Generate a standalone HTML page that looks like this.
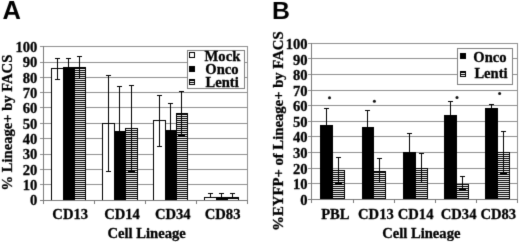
<!DOCTYPE html>
<html><head><meta charset="utf-8"><style>
html,body{margin:0;padding:0;background:#fff;}
body{width:520px;height:242px;overflow:hidden;}
svg{display:block;filter:grayscale(1);}
.t{font-family:"Liberation Serif",serif;font-weight:bold;font-size:14.6px;fill:#000;stroke:#000;stroke-width:0.3px;}
.yl{font-size:14.6px;}
.yl2{font-size:14.7px;}
.big{font-family:"Liberation Sans",sans-serif;font-weight:bold;font-size:25.5px;fill:#000;}
</style></head><body>
<svg width="520" height="242" viewBox="0 0 520 242" shape-rendering="crispEdges">
<defs>
<pattern id="stripe" patternUnits="userSpaceOnUse" x="0" y="0" width="4" height="2">
<rect x="0" y="0" width="4" height="1" fill="#000"/><rect x="0" y="1" width="4" height="1" fill="#fff"/>
</pattern>
<filter id="soft" x="0" y="0" width="520" height="242" filterUnits="userSpaceOnUse" color-interpolation-filters="sRGB"><feConvolveMatrix order="3" kernelMatrix="0.0113 0.0838 0.0113 0.0838 0.6196 0.0838 0.0113 0.0838 0.0113" edgeMode="duplicate" preserveAlpha="true"/></filter>
</defs>
<g filter="url(#soft)">
<rect width="520" height="242" fill="#fff"/>
<rect x="40" y="46" width="208" height="1" fill="#8f8f8f"/>
<rect x="40" y="62" width="208" height="1" fill="#8f8f8f"/>
<rect x="40" y="77" width="208" height="1" fill="#8f8f8f"/>
<rect x="40" y="92" width="208" height="1" fill="#8f8f8f"/>
<rect x="40" y="107" width="208" height="1" fill="#8f8f8f"/>
<rect x="40" y="123" width="208" height="1" fill="#8f8f8f"/>
<rect x="40" y="138" width="208" height="1" fill="#8f8f8f"/>
<rect x="40" y="154" width="208" height="1" fill="#8f8f8f"/>
<rect x="40" y="169" width="208" height="1" fill="#8f8f8f"/>
<rect x="40" y="184" width="208" height="1" fill="#8f8f8f"/>
<rect x="247" y="46" width="1" height="154" fill="#8f8f8f"/>
<rect x="51" y="68" width="13" height="132" fill="#fff"/>
<rect x="51" y="68" width="13" height="1" fill="#000"/>
<rect x="51" y="68" width="1" height="132" fill="#000"/>
<rect x="63" y="68" width="1" height="132" fill="#000"/>
<rect x="63" y="67" width="12" height="133" fill="#000"/>
<rect x="63" y="67" width="12" height="1" fill="#000"/>
<rect x="63" y="67" width="1" height="133" fill="#000"/>
<rect x="74" y="67" width="1" height="133" fill="#000"/>
<rect x="74" y="67" width="12" height="133" fill="url(#stripe)"/>
<rect x="74" y="67" width="12" height="1" fill="#000"/>
<rect x="74" y="67" width="1" height="133" fill="#000"/>
<rect x="85" y="67" width="1" height="133" fill="#000"/>
<rect x="102" y="123" width="13" height="77" fill="#fff"/>
<rect x="102" y="123" width="13" height="1" fill="#000"/>
<rect x="102" y="123" width="1" height="77" fill="#000"/>
<rect x="114" y="123" width="1" height="77" fill="#000"/>
<rect x="114" y="131" width="12" height="69" fill="#000"/>
<rect x="114" y="131" width="12" height="1" fill="#000"/>
<rect x="114" y="131" width="1" height="69" fill="#000"/>
<rect x="125" y="131" width="1" height="69" fill="#000"/>
<rect x="125" y="128" width="13" height="72" fill="url(#stripe)"/>
<rect x="125" y="128" width="13" height="1" fill="#000"/>
<rect x="125" y="128" width="1" height="72" fill="#000"/>
<rect x="137" y="128" width="1" height="72" fill="#000"/>
<rect x="153" y="120" width="13" height="80" fill="#fff"/>
<rect x="153" y="120" width="13" height="1" fill="#000"/>
<rect x="153" y="120" width="1" height="80" fill="#000"/>
<rect x="165" y="120" width="1" height="80" fill="#000"/>
<rect x="165" y="130" width="12" height="70" fill="#000"/>
<rect x="165" y="130" width="12" height="1" fill="#000"/>
<rect x="165" y="130" width="1" height="70" fill="#000"/>
<rect x="176" y="130" width="1" height="70" fill="#000"/>
<rect x="176" y="113" width="12" height="87" fill="url(#stripe)"/>
<rect x="176" y="113" width="12" height="1" fill="#000"/>
<rect x="176" y="113" width="1" height="87" fill="#000"/>
<rect x="187" y="113" width="1" height="87" fill="#000"/>
<rect x="204" y="197" width="13" height="3" fill="#fff"/>
<rect x="204" y="197" width="13" height="1" fill="#000"/>
<rect x="204" y="197" width="1" height="3" fill="#000"/>
<rect x="216" y="197" width="1" height="3" fill="#000"/>
<rect x="216" y="197" width="12" height="3" fill="#000"/>
<rect x="216" y="197" width="12" height="1" fill="#000"/>
<rect x="216" y="197" width="1" height="3" fill="#000"/>
<rect x="227" y="197" width="1" height="3" fill="#000"/>
<rect x="227" y="197" width="12" height="3" fill="url(#stripe)"/>
<rect x="227" y="197" width="12" height="1" fill="#000"/>
<rect x="227" y="197" width="1" height="3" fill="#000"/>
<rect x="238" y="197" width="1" height="3" fill="#000"/>
<rect x="57" y="58" width="1" height="10" fill="#000"/>
<rect x="55" y="58" width="5" height="1" fill="#000"/>
<rect x="57" y="68" width="1" height="11" fill="#000"/>
<rect x="55" y="79" width="5" height="1" fill="#000"/>
<rect x="68" y="58" width="1" height="9" fill="#000"/>
<rect x="66" y="58" width="5" height="1" fill="#000"/>
<rect x="79" y="56" width="1" height="11" fill="#000"/>
<rect x="77" y="56" width="5" height="1" fill="#000"/>
<rect x="79" y="67" width="1" height="11" fill="#000"/>
<rect x="108" y="75" width="1" height="48" fill="#000"/>
<rect x="106" y="75" width="5" height="1" fill="#000"/>
<rect x="108" y="123" width="1" height="48" fill="#000"/>
<rect x="106" y="171" width="5" height="1" fill="#000"/>
<rect x="119" y="86" width="1" height="45" fill="#000"/>
<rect x="117" y="86" width="5" height="1" fill="#000"/>
<rect x="131" y="85" width="1" height="43" fill="#000"/>
<rect x="129" y="85" width="5" height="1" fill="#000"/>
<rect x="131" y="128" width="1" height="43" fill="#000"/>
<rect x="128" y="171" width="7" height="2" fill="#000"/>
<rect x="159" y="95" width="1" height="25" fill="#000"/>
<rect x="157" y="95" width="5" height="1" fill="#000"/>
<rect x="159" y="120" width="1" height="26" fill="#000"/>
<rect x="157" y="146" width="5" height="1" fill="#000"/>
<rect x="170" y="103" width="1" height="27" fill="#000"/>
<rect x="168" y="103" width="5" height="1" fill="#000"/>
<rect x="181" y="91" width="1" height="22" fill="#000"/>
<rect x="179" y="91" width="5" height="1" fill="#000"/>
<rect x="181" y="113" width="1" height="22" fill="#000"/>
<rect x="178" y="135" width="7" height="2" fill="#000"/>
<rect x="210" y="193" width="1" height="4" fill="#000"/>
<rect x="208" y="193" width="5" height="1" fill="#000"/>
<rect x="221" y="193" width="1" height="4" fill="#000"/>
<rect x="219" y="193" width="5" height="1" fill="#000"/>
<rect x="232" y="193" width="1" height="4" fill="#000"/>
<rect x="230" y="193" width="5" height="1" fill="#000"/>
<rect x="43" y="46" width="1" height="157" fill="#7a7a7a"/>
<rect x="40" y="200" width="208" height="1" fill="#7a7a7a"/>
<rect x="43" y="200" width="1" height="4" fill="#7a7a7a"/>
<rect x="94" y="200" width="1" height="4" fill="#7a7a7a"/>
<rect x="145" y="200" width="1" height="4" fill="#7a7a7a"/>
<rect x="196" y="200" width="1" height="4" fill="#7a7a7a"/>
<rect x="247" y="200" width="1" height="4" fill="#7a7a7a"/>
<text x="37.3" y="205.2" class="t" text-anchor="end">0</text>
<text x="37.3" y="189.88" class="t" text-anchor="end">10</text>
<text x="37.3" y="174.56" class="t" text-anchor="end">20</text>
<text x="37.3" y="159.24" class="t" text-anchor="end">30</text>
<text x="37.3" y="143.92" class="t" text-anchor="end">40</text>
<text x="37.3" y="128.6" class="t" text-anchor="end">50</text>
<text x="37.3" y="113.28" class="t" text-anchor="end">60</text>
<text x="37.3" y="97.96" class="t" text-anchor="end">70</text>
<text x="37.3" y="82.64" class="t" text-anchor="end">80</text>
<text x="37.3" y="67.32" class="t" text-anchor="end">90</text>
<text x="37.3" y="52" class="t" text-anchor="end">100</text>
<text x="70.2" y="219" class="t" text-anchor="middle">CD13</text>
<text x="122" y="219" class="t" text-anchor="middle">CD14</text>
<text x="172.8" y="219" class="t" text-anchor="middle">CD34</text>
<text x="222.6" y="219" class="t" text-anchor="middle">CD83</text>
<text x="146.6" y="237.6" class="t" text-anchor="middle">Cell Lineage</text>
<text transform="translate(12.2,122.6) rotate(-90)" class="t yl" text-anchor="middle">% Lineage+ by FACS</text>
<text x="2.4" y="19.1" class="big">A</text>
<rect x="187.5" y="50.5" width="57" height="38" fill="#fff" stroke="#808080" stroke-width="1"/>
<rect x="189.5" y="52.5" width="5" height="5" fill="#fff" stroke="#000"/>
<rect x="189.5" y="66.5" width="5" height="5" fill="#000" stroke="#000"/>
<rect x="189.5" y="79.5" width="5" height="5" fill="url(#stripe)" stroke="#000"/>
<text x="204.6" y="60.6" class="t">Mock</text>
<text x="205.3" y="73.8" class="t">Onco</text>
<text x="205.5" y="86.8" class="t">Lenti</text>
<rect x="308" y="43" width="210" height="1" fill="#8f8f8f"/>
<rect x="308" y="58" width="210" height="1" fill="#8f8f8f"/>
<rect x="308" y="74" width="210" height="1" fill="#8f8f8f"/>
<rect x="308" y="90" width="210" height="1" fill="#8f8f8f"/>
<rect x="308" y="105" width="210" height="1" fill="#8f8f8f"/>
<rect x="308" y="121" width="210" height="1" fill="#8f8f8f"/>
<rect x="308" y="136" width="210" height="1" fill="#8f8f8f"/>
<rect x="308" y="152" width="210" height="1" fill="#8f8f8f"/>
<rect x="308" y="168" width="210" height="1" fill="#8f8f8f"/>
<rect x="308" y="183" width="210" height="1" fill="#8f8f8f"/>
<rect x="517" y="43" width="1" height="156" fill="#8f8f8f"/>
<rect x="320" y="125" width="13" height="74" fill="#000"/>
<rect x="320" y="125" width="13" height="1" fill="#000"/>
<rect x="320" y="125" width="1" height="74" fill="#000"/>
<rect x="332" y="125" width="1" height="74" fill="#000"/>
<rect x="332" y="170" width="13" height="29" fill="url(#stripe)"/>
<rect x="332" y="170" width="13" height="1" fill="#000"/>
<rect x="332" y="170" width="1" height="29" fill="#000"/>
<rect x="344" y="170" width="1" height="29" fill="#000"/>
<rect x="362" y="127" width="12" height="72" fill="#000"/>
<rect x="362" y="127" width="12" height="1" fill="#000"/>
<rect x="362" y="127" width="1" height="72" fill="#000"/>
<rect x="373" y="127" width="1" height="72" fill="#000"/>
<rect x="373" y="171" width="13" height="28" fill="url(#stripe)"/>
<rect x="373" y="171" width="13" height="1" fill="#000"/>
<rect x="373" y="171" width="1" height="28" fill="#000"/>
<rect x="385" y="171" width="1" height="28" fill="#000"/>
<rect x="403" y="152" width="13" height="47" fill="#000"/>
<rect x="403" y="152" width="13" height="1" fill="#000"/>
<rect x="403" y="152" width="1" height="47" fill="#000"/>
<rect x="415" y="152" width="1" height="47" fill="#000"/>
<rect x="415" y="168" width="13" height="31" fill="url(#stripe)"/>
<rect x="415" y="168" width="13" height="1" fill="#000"/>
<rect x="415" y="168" width="1" height="31" fill="#000"/>
<rect x="427" y="168" width="1" height="31" fill="#000"/>
<rect x="444" y="115" width="13" height="84" fill="#000"/>
<rect x="444" y="115" width="13" height="1" fill="#000"/>
<rect x="444" y="115" width="1" height="84" fill="#000"/>
<rect x="456" y="115" width="1" height="84" fill="#000"/>
<rect x="456" y="184" width="13" height="15" fill="url(#stripe)"/>
<rect x="456" y="184" width="13" height="1" fill="#000"/>
<rect x="456" y="184" width="1" height="15" fill="#000"/>
<rect x="468" y="184" width="1" height="15" fill="#000"/>
<rect x="485" y="108" width="13" height="91" fill="#000"/>
<rect x="485" y="108" width="13" height="1" fill="#000"/>
<rect x="485" y="108" width="1" height="91" fill="#000"/>
<rect x="497" y="108" width="1" height="91" fill="#000"/>
<rect x="497" y="152" width="13" height="47" fill="url(#stripe)"/>
<rect x="497" y="152" width="13" height="1" fill="#000"/>
<rect x="497" y="152" width="1" height="47" fill="#000"/>
<rect x="509" y="152" width="1" height="47" fill="#000"/>
<rect x="326" y="108" width="1" height="17" fill="#000"/>
<rect x="324" y="108" width="5" height="1" fill="#000"/>
<rect x="338" y="157" width="1" height="13" fill="#000"/>
<rect x="336" y="157" width="5" height="1" fill="#000"/>
<rect x="338" y="170" width="1" height="13" fill="#000"/>
<rect x="335" y="183" width="7" height="2" fill="#000"/>
<rect x="367" y="110" width="1" height="17" fill="#000"/>
<rect x="365" y="110" width="5" height="1" fill="#000"/>
<rect x="379" y="158" width="1" height="13" fill="#000"/>
<rect x="377" y="158" width="5" height="1" fill="#000"/>
<rect x="379" y="171" width="1" height="11" fill="#000"/>
<rect x="409" y="133" width="1" height="19" fill="#000"/>
<rect x="407" y="133" width="5" height="1" fill="#000"/>
<rect x="421" y="153" width="1" height="15" fill="#000"/>
<rect x="419" y="153" width="5" height="1" fill="#000"/>
<rect x="421" y="168" width="1" height="15" fill="#000"/>
<rect x="450" y="101" width="1" height="14" fill="#000"/>
<rect x="448" y="101" width="5" height="1" fill="#000"/>
<rect x="462" y="176" width="1" height="8" fill="#000"/>
<rect x="460" y="176" width="5" height="1" fill="#000"/>
<rect x="462" y="184" width="1" height="5" fill="#000"/>
<rect x="459" y="189" width="7" height="2" fill="#000"/>
<rect x="491" y="104" width="1" height="4" fill="#000"/>
<rect x="489" y="104" width="5" height="1" fill="#000"/>
<rect x="503" y="131" width="1" height="21" fill="#000"/>
<rect x="501" y="131" width="5" height="1" fill="#000"/>
<rect x="503" y="152" width="1" height="20" fill="#000"/>
<rect x="500" y="172" width="7" height="2" fill="#000"/>
<rect x="311" y="43" width="1" height="159" fill="#7a7a7a"/>
<rect x="308" y="199" width="210" height="1" fill="#7a7a7a"/>
<rect x="311" y="199" width="1" height="4" fill="#7a7a7a"/>
<rect x="353" y="199" width="1" height="4" fill="#7a7a7a"/>
<rect x="394" y="199" width="1" height="4" fill="#7a7a7a"/>
<rect x="435" y="199" width="1" height="4" fill="#7a7a7a"/>
<rect x="476" y="199" width="1" height="4" fill="#7a7a7a"/>
<rect x="517" y="199" width="1" height="4" fill="#7a7a7a"/>
<text x="307.6" y="204.6" class="t" text-anchor="end">0</text>
<text x="307.6" y="189.07" class="t" text-anchor="end">10</text>
<text x="307.6" y="173.54" class="t" text-anchor="end">20</text>
<text x="307.6" y="158.01" class="t" text-anchor="end">30</text>
<text x="307.6" y="142.48" class="t" text-anchor="end">40</text>
<text x="307.6" y="126.95" class="t" text-anchor="end">50</text>
<text x="307.6" y="111.42" class="t" text-anchor="end">60</text>
<text x="307.6" y="95.89" class="t" text-anchor="end">70</text>
<text x="307.6" y="80.36" class="t" text-anchor="end">80</text>
<text x="307.6" y="64.83" class="t" text-anchor="end">90</text>
<text x="307.6" y="49.3" class="t" text-anchor="end">100</text>
<text x="335.4" y="219" class="t" text-anchor="middle">PBL</text>
<text x="375.9" y="219" class="t" text-anchor="middle">CD13</text>
<text x="415.6" y="219" class="t" text-anchor="middle">CD14</text>
<text x="458.6" y="219" class="t" text-anchor="middle">CD34</text>
<text x="498.3" y="219" class="t" text-anchor="middle">CD83</text>
<circle cx="329.5" cy="97.8" r="1.5" fill="#111" shape-rendering="auto"/>
<circle cx="374.4" cy="101.2" r="1.5" fill="#111" shape-rendering="auto"/>
<circle cx="457.0" cy="97.4" r="1.5" fill="#111" shape-rendering="auto"/>
<circle cx="499.6" cy="93.4" r="1.5" fill="#111" shape-rendering="auto"/>
<text x="421.3" y="237.6" class="t" text-anchor="middle">Cell Lineage</text>
<text transform="translate(282.6,131) rotate(-90)" class="t yl2" text-anchor="middle">%EYFP+ of Lineage+ by FACS</text>
<text x="272" y="18.8" class="big" style="font-size:24.8px">B</text>
<rect x="457.5" y="48.5" width="54.5" height="35.5" fill="#fff" stroke="#808080" stroke-width="1"/>
<rect x="460.5" y="53.5" width="5" height="5" fill="#000" stroke="#000"/>
<rect x="460.5" y="71.5" width="5" height="5" fill="url(#stripe)" stroke="#000"/>
<text x="473.3" y="61.5" class="t">Onco</text>
<text x="474.4" y="78.2" class="t">Lenti</text>
</g>
</svg>
</body></html>
